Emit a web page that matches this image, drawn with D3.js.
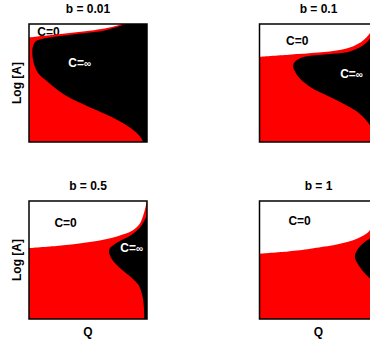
<!DOCTYPE html>
<html>
<head>
<meta charset="utf-8">
<script src="https://cdn.jsdelivr.net/npm/d3@7"></script>
<style>
    body { margin: 0; background: #fff; }
    text { font-family: "Liberation Sans", Arial, sans-serif; font-weight: bold; }
</style>
</head>
<body>
<svg id="chart" width="370" height="345"></svg>
<script>
"use strict"

// panel titles
let bLabels = ["b = 0.01", "b = 0.1", "b = 0.5", "b = 1"];

// C=0 / C>0 boundary, [Q, log A] pairs (both normalised 0..1)
let white001 = [[0, 0.885], [0.1, 0.898], [0.25, 0.914], [0.4, 0.93], [0.55, 0.948], [0.67, 0.968], [0.75, 0.987], [0.79, 1.0]];
let white01 = [[0, 0.723], [0.25, 0.74], [0.5, 0.758], [0.68, 0.78], [0.79, 0.81], [0.875, 0.858], [0.935, 0.921], [0.97, 1.0]];
let white05 = [[0, 0.60], [0.25, 0.62], [0.5, 0.65], [0.67, 0.68], [0.8, 0.718], [0.884, 0.755], [0.94, 0.81], [0.969, 0.881], [0.988, 0.95], [1.0, 1.0]];
let white1 = [[0, 0.554], [0.243, 0.573], [0.342, 0.582], [0.525, 0.61], [0.624, 0.625], [0.793, 0.667], [0.907, 0.724], [0.935, 0.752], [0.98, 0.85], [1.0, 1.0]];

// edge of the C=inf region, [Q, log A] pairs
let black001 = [[0.82, 1.0], [0.66, 0.95], [0.5, 0.925], [0.34, 0.907], [0.2, 0.89], [0.116, 0.874], [0.06, 0.855], [0.035, 0.815], [0.028, 0.76], [0.04, 0.67], [0.08, 0.58], [0.17, 0.5], [0.3, 0.4], [0.46, 0.32], [0.66, 0.23], [0.83, 0.14], [0.93, 0.06], [0.97, 0.0]];
let black01 = [[1.0, 0.96], [0.935, 0.876], [0.876, 0.818], [0.765, 0.768], [0.62, 0.747], [0.43, 0.73], [0.34, 0.708], [0.30, 0.68], [0.285, 0.644], [0.30, 0.60], [0.34, 0.54], [0.44, 0.46], [0.58, 0.39], [0.72, 0.32], [0.836, 0.25], [0.907, 0.18], [0.96, 0.1], [0.99, 0.0]];
let black05 = [[1.0, 0.88], [0.94, 0.775], [0.856, 0.705], [0.77, 0.66], [0.72, 0.63], [0.685, 0.60], [0.678, 0.57], [0.69, 0.53], [0.715, 0.49], [0.785, 0.42], [0.87, 0.35], [0.927, 0.29], [0.955, 0.22], [0.97, 0.14], [0.978, 0.0]];
let black1 = [[1.0, 0.72], [0.935, 0.681], [0.892, 0.653], [0.836, 0.597], [0.808, 0.525], [0.85, 0.44], [0.907, 0.37], [0.935, 0.345], [1.0, 0.3]];

let whites = [white001, white01, white05, white1];
let blacks = [black001, black01, black05, black1];

// label spots, [Q, log A]
let zeroSpots = [[0.165, 0.932], [0.32, 0.86], [0.31, 0.815], [0.34, 0.835]];
let infSpots = [[0.43, 0.67], [0.78, 0.58], [0.87, 0.60], null];

let size = 118;
let lefts = [29, 259.5, 29, 259.5];
let tops = [24, 24, 201, 201];

let svg = d3.select("#chart");

function drawPanel(i) {
    let x = d3.scaleLinear().domain([0, 1]).range([0, size]);
    let y = d3.scaleLinear().domain([0, 1]).range([size, 0]);

    let g = svg.append("g")
        .attr("transform", "translate(" + lefts[i] + "," + tops[i] + ")");

    let line = d3.line()
        .x(function (d) { return x(d[0]); })
        .y(function (d) { return y(d[1]); })
        .curve(d3.curveCatmullRom);

    // everything below the C=0 edge, closed round the bottom
    let w = whites[i];
    let belowPath = line(w) + "L" + x(1.2) + "," + y(w[w.length - 1][1])
        + "L" + x(1.2) + "," + y(-0.2) + "L" + x(-0.2) + "," + y(-0.2)
        + "L" + x(-0.2) + "," + y(w[0][1]) + "Z";

    g.append("clipPath").attr("id", "clip" + i)
        .append("rect").attr("width", size).attr("height", size);
    g.append("clipPath").attr("id", "below" + i)
        .append("path").attr("d", belowPath);

    let body = g.append("g").attr("clip-path", "url(#clip" + i + ")");

    // C=0 label sits under the coloured fill
    let z = zeroSpots[i];
    body.append("text")
        .attr("x", x(z[0])).attr("y", y(z[1]))
        .attr("text-anchor", "middle")
        .attr("dy", "0.35em")
        .attr("font-size", 12)
        .attr("fill", "#000")
        .text("C=0");

    body.append("path").attr("d", belowPath).attr("fill", "#ff0000");

    // black region closed round the right side
    let b = blacks[i];
    let bPath = line(b) + "L" + x(1.2) + "," + y(b[b.length - 1][1] - 0.2)
        + "L" + x(1.2) + "," + y(1.2) + "Z";
    body.append("g").attr("clip-path", "url(#below" + i + ")")
        .append("path").attr("d", bPath).attr("fill", "#000");

    let s = infSpots[i];
    if (s) {
        let t = body.append("text")
            .attr("x", x(s[0])).attr("y", y(s[1]))
            .attr("text-anchor", "middle")
            .attr("dy", "0.35em")
            .attr("font-size", 12)
            .attr("fill", "#fff");
        t.append("tspan").text("C=");
        t.append("tspan").attr("font-size", 10).text("\u221e");
    }

    g.append("rect")
        .attr("width", size).attr("height", size)
        .attr("fill", "none")
        .attr("stroke", "#000")
        .attr("stroke-width", 1.5);

    g.append("text")
        .attr("x", size / 2).attr("y", -11)
        .attr("text-anchor", "middle")
        .attr("font-size", 12)
        .text(bLabels[i]);

    if (i % 2 == 0) {
        g.append("text")
            .attr("transform", "translate(-8," + size / 2 + ") rotate(-90)")
            .attr("text-anchor", "middle")
            .attr("font-size", 12)
            .text("Log [A]");
    }
    if (i >= 2) {
        g.append("text")
            .attr("x", size / 2).attr("y", size + 17)
            .attr("text-anchor", "middle")
            .attr("font-size", 12)
            .text("Q");
    }
}

for (let i = 0; i < 4; i++) drawPanel(i);
</script>
</body>
</html>
